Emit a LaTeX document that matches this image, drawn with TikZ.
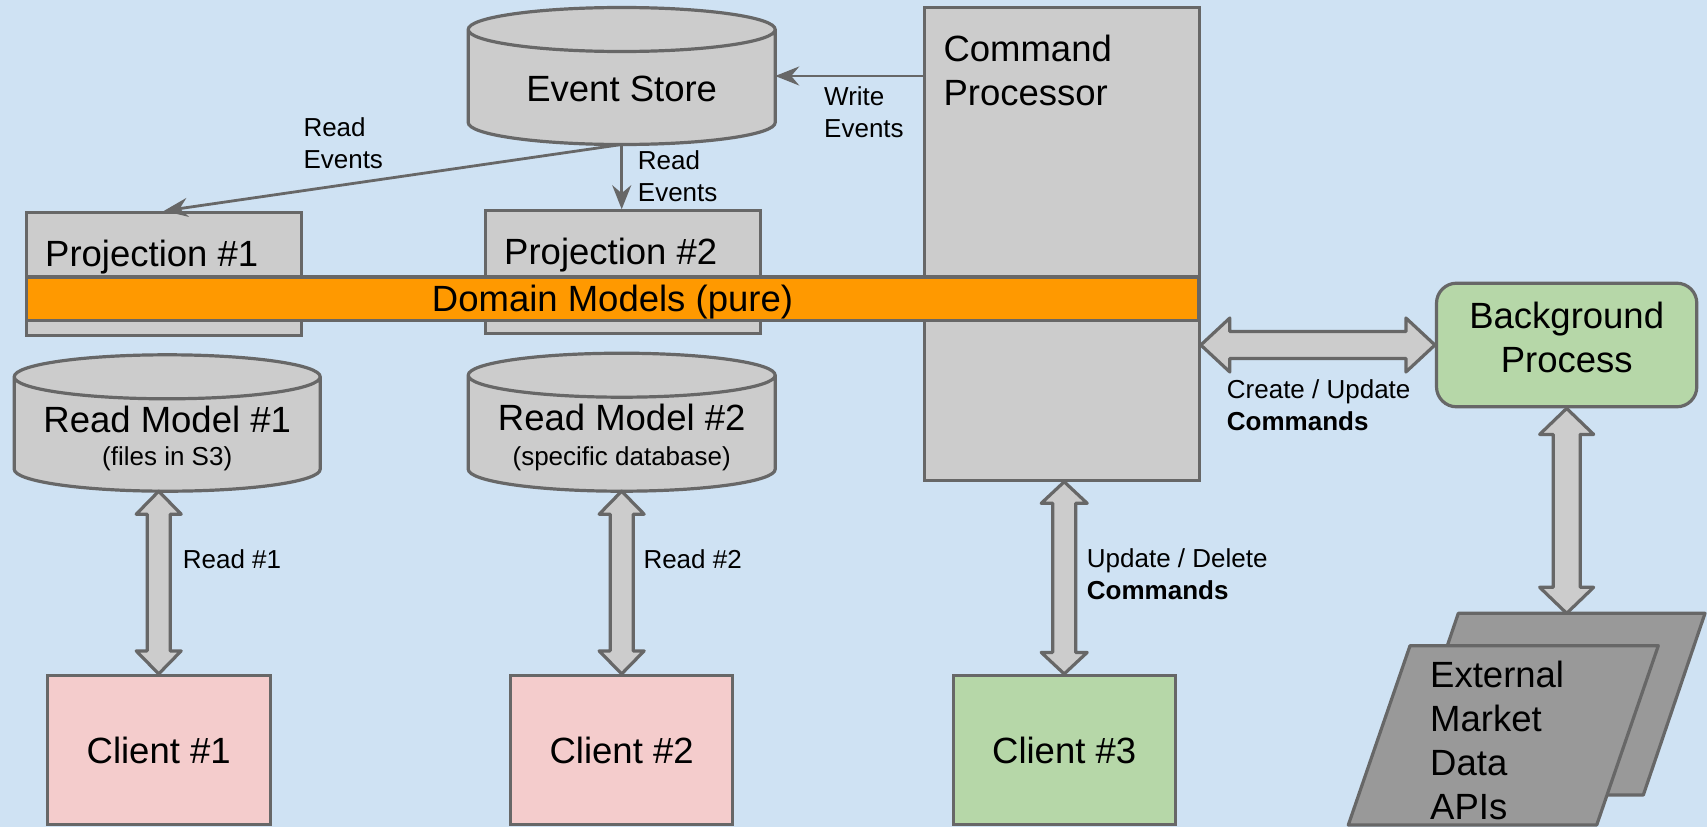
\documentclass[tikz,border=0pt]{standalone}
\usepackage{fontspec}
\setmainfont{Liberation Sans}
\usetikzlibrary{arrows.meta,calc}

\definecolor{bgblue}{HTML}{CFE2F3}
\definecolor{boxgray}{HTML}{CCCCCC}
\definecolor{linegray}{HTML}{676767}
\definecolor{barorange}{HTML}{FF9900}
\definecolor{clientpink}{HTML}{F4CCCC}
\definecolor{procgreen}{HTML}{B6D7A8}
\definecolor{extgray}{HTML}{999999}

% database cylinder drawn round an (invisible) node: name, y radius of the caps
\newcommand{\dbshape}[2]{%
  \path[dbfill] let \p1=(#1.north west), \p2=(#1.south east), \n1={(\x2-\x1)/2} in
    (\x1,\y1-#2) -- (\x1,\y2+#2) arc[start angle=180, end angle=360, x radius=\n1, y radius=#2]
    -- (\x2,\y1-#2) arc[start angle=0, end angle=180, x radius=\n1, y radius=#2] -- cycle
    (\x1,\y1-#2) arc[start angle=180, end angle=360, x radius=\n1, y radius=#2];}

% double block arrows: from, to, shaft half width, head half width, head length
\newcommand{\vblock}[5]{%
  \draw[blockarrow] let \p1=(#1), \p2=(#2) in
    (\x1,\y1) -- (\x1+#4,\y1-#5) -- (\x1+#3,\y1-#5) -- (\x1+#3,\y2+#5) -- (\x1+#4,\y2+#5)
    -- (\x1,\y2) -- (\x1-#4,\y2+#5) -- (\x1-#3,\y2+#5) -- (\x1-#3,\y1-#5) -- (\x1-#4,\y1-#5) -- cycle;}
\newcommand{\hblock}[5]{%
  \draw[blockarrow] let \p1=(#1), \p2=(#2) in
    (\x1,\y1) -- (\x1+#5,\y1+#4) -- (\x1+#5,\y1+#3) -- (\x2-#5,\y1+#3) -- (\x2-#5,\y1+#4)
    -- (\x2,\y1) -- (\x2-#5,\y1-#4) -- (\x2-#5,\y1-#3) -- (\x1+#5,\y1-#3) -- (\x1+#5,\y1-#4) -- cycle;}

\begin{document}
\begin{tikzpicture}[x=1pt, y=-1pt,
  box/.style       ={draw=linegray, line width=3.2pt, fill=boxgray, inner sep=0pt},
  dbnode/.style    ={inner sep=0pt, outer sep=0pt},
  dbfill/.style    ={draw=linegray, line width=3.2pt, fill=boxgray},
  dmbar/.style     ={draw=linegray, line width=3.2pt, fill=barorange, inner sep=0pt},
  extpar/.style    ={draw=linegray, line width=3.2pt, fill=extgray, line join=round},
  thinarrow/.style ={draw=linegray, line width=2.8pt, -{Stealth[length=24pt,width=19pt,inset=8pt]}},
  blockarrow/.style={draw=linegray, line width=3.2pt, fill=boxgray, line join=round},
  big/.style       ={font=\fontsize{36.5}{44}\selectfont, inner sep=0pt},
  lbl/.style       ={font=\fontsize{26}{32}\selectfont, inner sep=0pt, align=left}]

  % ---------------- background ----------------
  \fill[bgblue] (0,0) rectangle (1707,827);
  \useasboundingbox (0,0) rectangle (1707,827);

  % ---------------- event store ----------------
  \node[dbnode, minimum width=307pt, minimum height=137pt] (es) at (621.7,76) {};
  \dbshape{es}{22pt}
  \node[big, anchor=base] (es-t) at (621.7,101.7) {Event Store};

  % ---------------- projections + command processor ----------------
  \node[box, minimum width=274.7pt, minimum height=123.3pt] (p1) at (163.85,274.15) {};
  \node[big, anchor=base west] (p1-t) at (45,266) {Projection \#1};
  \node[box, minimum width=274.4pt, minimum height=122.7pt] (p2) at (623,272.15) {};
  \node[big, anchor=base west] (p2-t) at (504,264.3) {Projection \#2};
  \node[box, minimum width=274.4pt, minimum height=472.7pt] (cp) at (1062,243.85) {};
  \node[big, anchor=west, align=left] (cp-t) at (943.3,70) {Command\\Processor};

  % ---------------- event arrows ----------------
  \draw[thinarrow] (cp.west |- es.east) -- (es.east);
  \node[lbl, anchor=west] (we-l) at (824,112.4) {Write\\Events};
  \draw[thinarrow] (es.south) -- (p1.north);
  \node[lbl, anchor=west] (re1-l) at (303.3,143.6) {Read\\Events};
  \draw[thinarrow] (es.south) -- (es.south |- p2.north);
  \node[lbl, anchor=west] (re2-l) at (637.7,175.9) {Read\\Events};

  % ---------------- domain models bar ----------------
  \node[dmbar, minimum width=1172pt, minimum height=43.5pt] (dm) at (612.5,298.75) {};
  \node[big, anchor=base] (dm-t) at (612.5,311.7) {Domain Models (pure)};

  % ---------------- read models ----------------
  \node[dbnode, minimum width=306pt, minimum height=136.4pt] (rm1) at (167.2,423) {};
  \dbshape{rm1}{22pt}
  \node[big, anchor=base] (rm1-t) at (167.2,432.3) {Read Model \#1};
  \node[lbl, anchor=base] (rm1-s) at (167.2,465) {(files in S3)};
  \node[dbnode, minimum width=307pt, minimum height=138pt] (rm2) at (621.7,422.2) {};
  \dbshape{rm2}{22pt}
  \node[big, anchor=base] (rm2-t) at (621.7,430.7) {Read Model \#2};
  \node[lbl, anchor=base] (rm2-s) at (621.7,465) {(specific database)};

  % ---------------- clients ----------------
  \node[box, big, fill=clientpink, minimum width=223pt, minimum height=149pt] (c1) at (158.7,750) {Client \#1};
  \node[box, big, fill=clientpink, minimum width=222.3pt, minimum height=149pt] (c2) at (621.65,750) {Client \#2};
  \node[box, big, fill=procgreen, minimum width=222pt, minimum height=149pt] (c3) at (1064.2,750) {Client \#3};

  % ---------------- background process + external apis ----------------
  \node[box, fill=procgreen, rounded corners=20pt, minimum width=260.3pt, minimum height=123.6pt] (bp) at (1566.65,345) {};
  \node[big, align=center] (bp-t) at (1566.7,337) {Background\\Process};
  \draw[extpar] (1458.3,613.3) -- (1705,613.3) -- (1643.3,795) -- (1396.6,795) -- cycle;
  \draw[extpar] (1410,645.7) -- (1658.3,645.7) -- (1596.7,825) -- (1348.3,825) -- cycle;
  \coordinate (ext) at (1566.7,613.3);
  \node[big, anchor=west, align=left] (ext-t) at (1430,740.5) {External\\Market\\Data\\APIs};

  % ---------------- block arrows ----------------
  \vblock{c1.north |- rm1.south}{c1.north}{11.5pt}{22.5pt}{23pt}
  \node[lbl, anchor=base west] (r1-l) at (182.7,568.3) {Read \#1};
  \vblock{c2.north |- rm2.south}{c2.north}{11.5pt}{22.5pt}{23pt}
  \node[lbl, anchor=base west] (r2-l) at (643.3,568.3) {Read \#2};
  \vblock{c3.north |- cp.south}{c3.north}{11.5pt}{23pt}{21.5pt}
  \node[lbl, anchor=west] (ud-l) at (1086.7,574.2) {Update / Delete\\\textbf{Commands}};
  \hblock{cp.east |- bp.west}{bp.west}{13.5pt}{27pt}{29pt}
  \node[lbl, anchor=west] (cu-l) at (1226.7,404.9) {Create / Update\\\textbf{Commands}};
  \vblock{bp.south}{ext}{13.5pt}{27pt}{26pt}
\end{tikzpicture}
\end{document}
